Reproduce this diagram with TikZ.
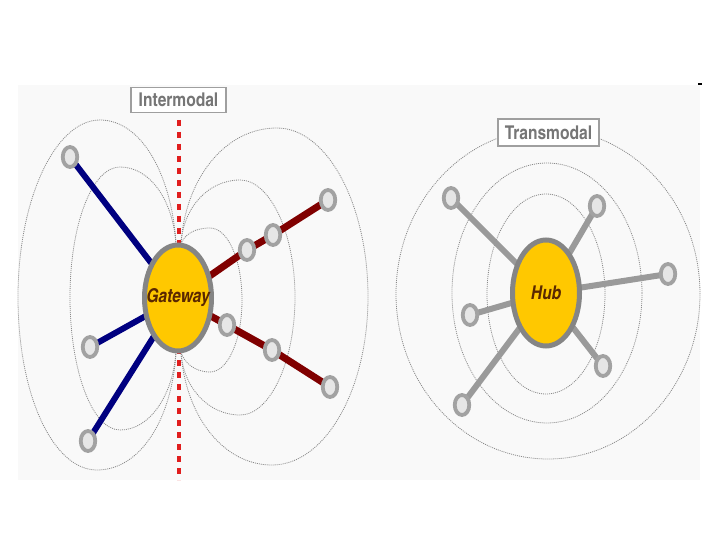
\documentclass[tikz,border=0pt]{standalone}
\usepackage{fontspec}
\setmainfont{TeX Gyre Heros}
\newfontfamily\cnd{texgyreheroscn}[Extension=.otf,UprightFont=*-regular,BoldFont=*-bold,ItalicFont=*-italic,BoldItalicFont=*-bolditalic]
\usetikzlibrary{shapes.geometric}
\definecolor{gold}{HTML}{FFC800}
\definecolor{rimgray}{HTML}{858585}
\definecolor{navyline}{HTML}{000080}
\definecolor{maroonline}{HTML}{800000}
\definecolor{spokegray}{HTML}{9A9A9A}
\definecolor{dashred}{HTML}{E01E1E}
\definecolor{txtbrown}{HTML}{5A2800}
\definecolor{labgray}{HTML}{767676}
\definecolor{leafrim}{HTML}{A2A2A2}
\definecolor{leaffill}{HTML}{E6E6E6}
\definecolor{paper}{HTML}{F9F9F9}
\definecolor{fieldgray}{HTML}{8A8A8A}
\pgfdeclarelayer{bg}
\pgfdeclarelayer{mid}
\pgfsetlayers{bg,mid,main}
\begin{document}
\begin{tikzpicture}[x=1pt,y=1pt,
  bignode/.style={ellipse,draw=rimgray,line width=5pt,fill=gold,minimum width=67pt,minimum height=106pt,inner xsep=-14pt,inner ysep=0pt,font=\cnd\bfseries\itshape\fontsize{19}{19}\selectfont,text=txtbrown},
  leaf/.style={ellipse,draw=leafrim,line width=3.8pt,fill=leaffill,minimum width=14.5pt,minimum height=20pt,inner sep=0pt},
  field/.style={draw=fieldgray,line width=0.8pt,dash pattern=on 1pt off 1pt},
  labelbox/.style={draw=gray!75,line width=1.8pt,fill=white,inner sep=0pt,font=\cnd\bfseries\fontsize{19}{19}\selectfont,text=labgray},
  bluespoke/.style={draw=navyline,line width=6pt},
  redspoke/.style={draw=maroonline,line width=7pt},
  grayspoke/.style={draw=spokegray,line width=6pt},
  reddash/.style={draw=dashred,line width=4pt,dash pattern=on 6pt off 6pt}]
\useasboundingbox (0,0) rectangle (720,-540);

% ---- nodes
\node[bignode] (gw) at (178,-298) {Gateway};
\node[bignode] (hub) at (546,-293) {Hub};
\node[labelbox,minimum width=95pt,minimum height=25pt] (im) at (178.5,-100) {Intermodal};
\node[labelbox,minimum width=101pt,minimum height=27pt] (tm) at (548.5,-132.5) {Transmodal};

\node[leaf] (b1) at (70,-157) {};
\node[leaf] (b2) at (90,-347) {};
\node[leaf] (b3) at (88,-441) {};
\node[leaf] (r1) at (247,-250) {};
\node[leaf] (r2) at (273,-235) {};
\node[leaf] (r3) at (328,-200) {};
\node[leaf] (s1) at (227,-325) {};
\node[leaf] (s2) at (272,-350) {};
\node[leaf] (s3) at (330,-387) {};

\node[leaf] (h1) at (451,-198) {};
\node[leaf] (h2) at (597,-206) {};
\node[leaf] (h3) at (668,-274) {};
\node[leaf] (h4) at (470,-315) {};
\node[leaf] (h5) at (603,-366) {};
\node[leaf] (h6) at (462,-405) {};

\coordinate (dtop) at (179,-120);
\coordinate (dbot) at (179,-480);
\coordinate (tR) at (181,-244);
\coordinate (bR) at (181,-352);
\coordinate (tL) at (176,-244);
\coordinate (bL) at (176,-352);

\begin{pgfonlayer}{bg}
  \fill[paper] (18,-85) rectangle (700,-480);
  \fill[black] (698,-83.5) rectangle (701.5,-85.5);
\end{pgfonlayer}

\begin{pgfonlayer}{mid}
  % field loops, intermodal (left)
  \draw[field] (tL) .. controls (172,-176) and (142,-120) .. (100,-120)
                    .. controls (55,-120) and (18,-200) .. (18,-297)
                    .. controls (18,-395) and (53,-470) .. (97,-470)
                    .. controls (140,-470) and (172,-420) .. (bL);
  \draw[field] (tL) .. controls (173,-200) and (150,-167) .. (120,-167)
                    .. controls (92,-167) and (70,-225) .. (70,-297)
                    .. controls (70,-370) and (92,-430) .. (120,-430)
                    .. controls (150,-430) and (173,-395) .. (bL);
  % field loops, intermodal (right)
  \draw[field] (tR) .. controls (185,-180) and (224,-128) .. (277,-128)
                    .. controls (327,-128) and (368,-204) .. (368,-297)
                    .. controls (368,-390) and (325,-465) .. (272,-465)
                    .. controls (222,-465) and (185,-414) .. (bR);
  \draw[field] (tR) .. controls (183,-208) and (208,-180) .. (240,-180)
                    .. controls (270,-180) and (295,-233) .. (295,-297)
                    .. controls (295,-362) and (270,-415) .. (240,-415)
                    .. controls (208,-415) and (183,-387) .. (bR);
  \draw[field] (tR) .. controls (184,-235) and (194,-228) .. (210,-228)
                    .. controls (228,-228) and (242,-260) .. (242,-300)
                    .. controls (242,-340) and (228,-372) .. (210,-372)
                    .. controls (194,-372) and (184,-362) .. (bR);
  % field rings, transmodal
  \draw[field] (hub.center) ++(2,-1) ellipse [x radius=152pt,y radius=165pt];
  \draw[field] (hub.center) ++(1,0) ellipse [x radius=95pt,y radius=130pt];
  \draw[field] (hub.center) ++(0,-1) ellipse [x radius=59pt,y radius=100pt];
  % red boundary
  \draw[reddash] (dtop) -- (dbot);
  % spokes
  \draw[bluespoke] (gw.center) -- (b1.center);
  \draw[bluespoke] (gw.center) -- (b2.center);
  \draw[bluespoke] (gw.center) -- (b3.center);
  \draw[redspoke] (gw.center) -- (r1.center) -- (r2.center) -- (r3.center);
  \draw[redspoke] (gw.center) -- (s1.center) -- (s2.center) -- (s3.center);
  \foreach \h in {h1,h2,h3,h4,h5,h6} \draw[grayspoke] (hub.center) -- (\h.center);
\end{pgfonlayer}
\end{tikzpicture}
\end{document}
